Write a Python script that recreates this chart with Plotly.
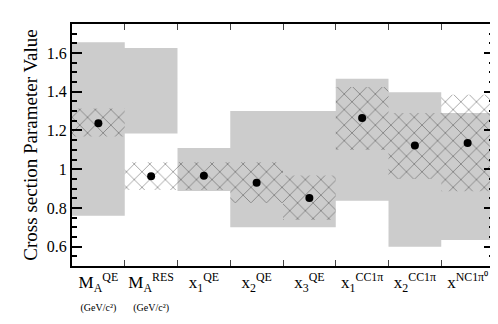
import plotly.graph_objects as go

# parameter labels
params = [
    "M<sub>A</sub><sup>QE</sup><br><span style='font-size:10px'>(GeV/c²)</span>",
    "M<sub>A</sub><sup>RES</sup><br><span style='font-size:10px'>(GeV/c²)</span>",
    "x<sub>1</sub><sup>QE</sup>",
    "x<sub>2</sub><sup>QE</sup>",
    "x<sub>3</sub><sup>QE</sup>",
    "x<sub>1</sub><sup>CC1π</sup>",
    "x<sub>2</sub><sup>CC1π</sup>",
    "x<sup>NC1π⁰</sup>",
]

# prior uncertainty (grey boxes)
prior_lo = [0.76, 1.185, 0.887, 0.70, 0.70, 0.837, 0.60, 0.634]
prior_hi = [1.656, 1.626, 1.109, 1.30, 1.30, 1.467, 1.398, 1.29]

# post-fit uncertainty (hatched boxes)
post_lo = [1.169, 0.892, 0.892, 0.827, 0.737, 1.099, 0.949, 0.886]
post_hi = [1.313, 1.036, 1.036, 1.036, 0.967, 1.424, 1.29, 1.385]

# best-fit values
best_fit = [1.237, 0.964, 0.966, 0.93, 0.851, 1.265, 1.122, 1.135]

xpos = list(range(len(params)))
bounds = [i + 0.5 for i in xpos[:-1]]


def boxes(lo, hi):
    # one closed rectangle per category, separated by gaps
    xs, ys = [], []
    for i, (l, h) in enumerate(zip(lo, hi)):
        xs += [i - 0.5, i + 0.5, i + 0.5, i - 0.5, i - 0.5, None]
        ys += [l, l, h, h, l, None]
    return xs, ys


fig = go.Figure()

gx, gy = boxes(prior_lo, prior_hi)
fig.add_trace(go.Scatter(
    x=gx, y=gy, mode='lines', fill='toself',
    fillcolor='#cccccc', line=dict(width=0, color='#cccccc'),
    hoverinfo='skip',
))

hx, hy = boxes(post_lo, post_hi)
fig.add_trace(go.Scatter(
    x=hx, y=hy, mode='lines', fill='toself',
    fillcolor='rgba(0,0,0,0)', line=dict(width=0, color='rgba(0,0,0,0)'),
    fillpattern=dict(shape='x', size=11, solidity=0.15,
                     fgcolor='#333333', bgcolor='rgba(0,0,0,0)'),
    hoverinfo='skip',
))

fig.add_trace(go.Scatter(
    x=xpos,
    y=best_fit,
    mode='markers',
    marker=dict(color='black', size=8),
))

fig.update_layout(
    width=498,
    height=324,
    showlegend=False,
    plot_bgcolor='white',
    paper_bgcolor='white',
    margin=dict(l=64, r=10, t=16, b=66),
    font=dict(family='Liberation Serif', color='black'),
    xaxis=dict(
        range=[-0.5, 7.5],
        tickvals=xpos,
        ticktext=params,
        ticks='',
        tickfont=dict(size=17),
        showgrid=False,
        zeroline=False,
        showline=True,
        linecolor='black',
        linewidth=2,
        mirror='ticks',
        minor=dict(tickvals=bounds, ticks='inside', ticklen=6),
    ),
    yaxis=dict(
        range=[0.5, 1.75],
        tick0=0.6,
        dtick=0.2,
        ticks='inside',
        ticklen=10,
        tickcolor='black',
        tickwidth=1.5,
        tickfont=dict(size=16),
        showgrid=False,
        zeroline=False,
        showline=True,
        linecolor='black',
        linewidth=2,
        mirror='ticks',
        minor=dict(dtick=0.05, ticks='inside', ticklen=5),
        title=dict(text='Cross section Parameter Value', font=dict(size=19), standoff=4),
    ),
)

fig.write_html("out.html")
